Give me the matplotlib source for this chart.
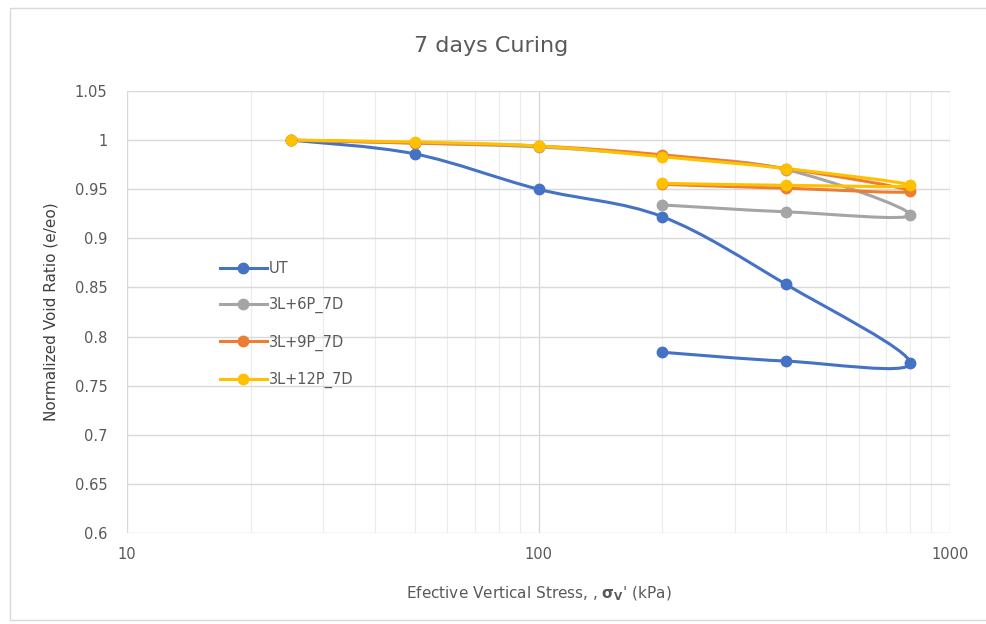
import numpy as np
import matplotlib.pyplot as plt
from matplotlib.path import Path
from matplotlib.patches import PathPatch, Rectangle
from matplotlib.ticker import FixedLocator, LogLocator, NullFormatter

# loading 25 -> 800 kPa then unloading back to 200 kPa
stress = [25, 50, 100, 200, 400, 800, 400, 200]
ut = [1.0, 0.986, 0.950, 0.922, 0.853, 0.773, 0.775, 0.784]
l6p = [1.0, 0.997, 0.993, 0.984, 0.970, 0.924, 0.927, 0.934]
l9p = [1.0, 0.997, 0.994, 0.985, 0.971, 0.948, 0.951, 0.955]
l12p = [1.0, 0.998, 0.994, 0.983, 0.971, 0.954, 0.954, 0.956]
names = ["UT", "3L+6P_7D", "3L+9P_7D", "3L+12P_7D"]
colors = ["#4472C4", "#A5A5A5", "#ED7D31", "#FFC000"]
yticks = [0.6, 0.65, 0.7, 0.75, 0.8, 0.85, 0.9, 0.95, 1.0, 1.05]
ylabels = ["0.6", "0.65", "0.7", "0.75", "0.8", "0.85", "0.9", "0.95", "1", "1.05"]
xticks = [10, 100, 1000]
xlabels = ["10", "100", "1000"]

SX, SY = 411.0, 982.0  # px per decade / per unit, for smoothing shape


def smooth_path(xs, ys):
    # excel-like smoothed line: cubic bezier segments through the points
    u = np.log10(xs) * SX
    v = np.array(ys) * SY
    n = len(u)
    verts = [(u[0], v[0])]
    codes = [Path.MOVETO]
    for i in range(n - 1):
        p0 = np.array([u[max(i - 1, 0)], v[max(i - 1, 0)]])
        p1 = np.array([u[i], v[i]])
        p2 = np.array([u[i + 1], v[i + 1]])
        p3 = np.array([u[min(i + 2, n - 1)], v[min(i + 2, n - 1)]])
        c1 = p1 + (p2 - p0) / 6.0
        c2 = p2 - (p3 - p1) / 6.0
        verts += [tuple(c1), tuple(c2), tuple(p2)]
        codes += [Path.CURVE4] * 3
    verts = np.array(verts)
    verts[:, 0] = 10 ** (verts[:, 0] / SX)
    verts[:, 1] = verts[:, 1] / SY
    return Path(verts, codes)


fig = plt.figure(figsize=(9.86, 6.24), dpi=100)
fig.patches.append(Rectangle((10 / 986, 4 / 624), 1.0, 612 / 624, transform=fig.transFigure,
                             fill=False, edgecolor="#d9d9d9", linewidth=1.0))
ax = fig.add_axes([127 / 986, 91 / 624, 823 / 986, 442 / 624])
ax.set_xscale("log")
ax.set_xlim(10, 1000)
ax.set_ylim(0.6, 1.05)

for ys, name, c in zip([ut, l6p, l9p, l12p], names, colors):
    ax.add_patch(PathPatch(smooth_path(stress, ys), fill=False, edgecolor=c, linewidth=2.2,
                           capstyle="round", joinstyle="round"))
    ax.plot(stress, ys, linestyle="none", marker="o", markersize=7.5, color=c)
    ax.plot([], [], color=c, linewidth=2.2, marker="o", markersize=7.5, label=name)

ax.xaxis.set_major_locator(FixedLocator(xticks))
ax.set_xticklabels(xlabels)
ax.xaxis.set_minor_locator(LogLocator(base=10, subs=np.arange(2, 10)))
ax.xaxis.set_minor_formatter(NullFormatter())
ax.set_yticks(yticks)
ax.set_yticklabels(ylabels)
ax.grid(True, which="major", color="#d9d9d9", linewidth=1.0)
ax.grid(True, which="minor", axis="x", color="#ececec", linewidth=0.8)
ax.set_axisbelow(True)
for s in ax.spines.values():
    s.set_visible(False)
ax.tick_params(which="both", length=0, labelsize=10.5, colors="#595959")
ax.tick_params(axis="y", pad=14)
ax.tick_params(axis="x", pad=10)

fig.text(0.498, 1 - 46 / 624, "7 days Curing", fontsize=16, color="#595959",
         ha="center", va="center")
ax.set_ylabel("Normalized Void Ratio (e/eo)", fontsize=11, color="#404040", labelpad=12)
ax.set_xlabel(r"Efective Vertical Stress, , $\mathbf{\sigma_V}$' (kPa)", fontsize=11,
              color="#595959", labelpad=16)

ax.legend(loc="upper left", bbox_to_anchor=(0.097, 0.645), frameon=False, fontsize=10.5,
          labelspacing=1.45, handlelength=3.2, handletextpad=0.15, labelcolor="#595959")

fig.savefig("out.png", dpi=100)
